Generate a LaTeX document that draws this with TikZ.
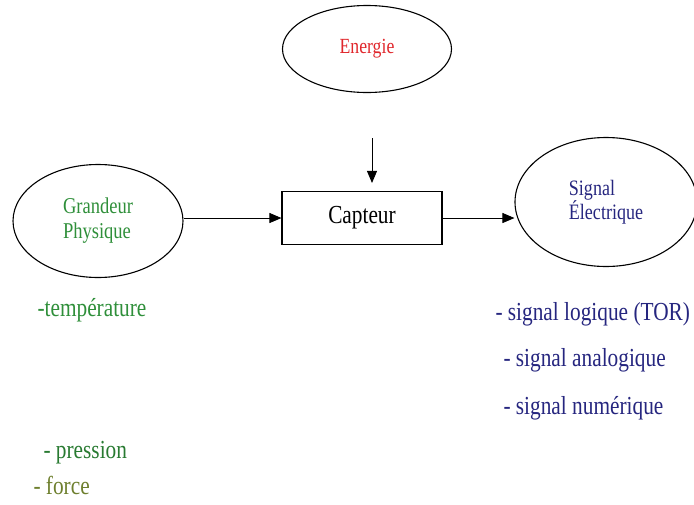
\documentclass[tikz,border=0pt]{standalone}
\usepackage{fontspec}
\setmainfont{Liberation Serif}[FakeStretch=0.82]
\definecolor{capRouge}{HTML}{E0262B}
\definecolor{capVert}{HTML}{2F8F3A}
\definecolor{capOlive}{HTML}{6E7F2E}
\definecolor{capBleu}{HTML}{26267F}
\usepackage{tikz}
\usetikzlibrary{
	arrows.meta,
	positioning,
	shapes.geometric
}

\begin{document}
\begin{tikzpicture}[x=1pt,y=-1pt,
		bulle/.style={draw, ellipse, line width=1.1pt, inner sep=0pt, align=left},
		fleche/.style={-{Triangle[length=12pt,width=10pt]}, line width=0.9pt},
		liste/.style={anchor=base west, font=\fontsize{26}{30}\selectfont}]
		\useasboundingbox (0,0) rectangle (694,504);
		% les trois bulles et le capteur
		\node[bulle, minimum width=169, minimum height=87, text=capRouge,
			font=\fontsize{21.6}{24}\selectfont] (energie) at (367,49) {Energie};
		\node[bulle, minimum width=170, minimum height=113, text=capVert,
			font=\fontsize{22.6}{25}\selectfont] (grandeur) at (98,221) {Grandeur\\Physique};
		\node[bulle, minimum width=182, minimum height=129, text=capBleu,
			font=\fontsize{22}{24}\selectfont] (signal) at (606,202) {Signal\\ Électrique};
		\node[draw, line width=1.1pt, minimum width=160, minimum height=53,
			font=\fontsize{26}{30}\selectfont] (capteur) at (362,218) {Capteur};
		\coordinate (source) at (372,138);
		\draw[fleche, shorten >=8pt] (source) -- (source |- capteur.north);
		\draw[fleche] (grandeur.east |- capteur.west) -- (capteur.west);
		\draw[fleche] (capteur.east) -- (capteur.east -| signal.west);
		% grandeurs physiques
		\node[liste, text=capVert] (temperature) at (34,316) {-température};
		\node[liste, text=capVert!85!black] (pression) at (40,458) {- pression};
		\node[liste, text=capOlive] (force) at (30,494) {- force};
		% types de signaux
		\foreach \y/\x/\nom/\lab in {320/492/logique/{- signal logique (TOR)},
			366/500/analogique/{- signal analogique},
			414/500/numerique/{- signal numérique}}{
			\node[liste, text=capBleu] (\nom) at (\x,\y) {\lab};
		}
	\end{tikzpicture}
\end{document}
